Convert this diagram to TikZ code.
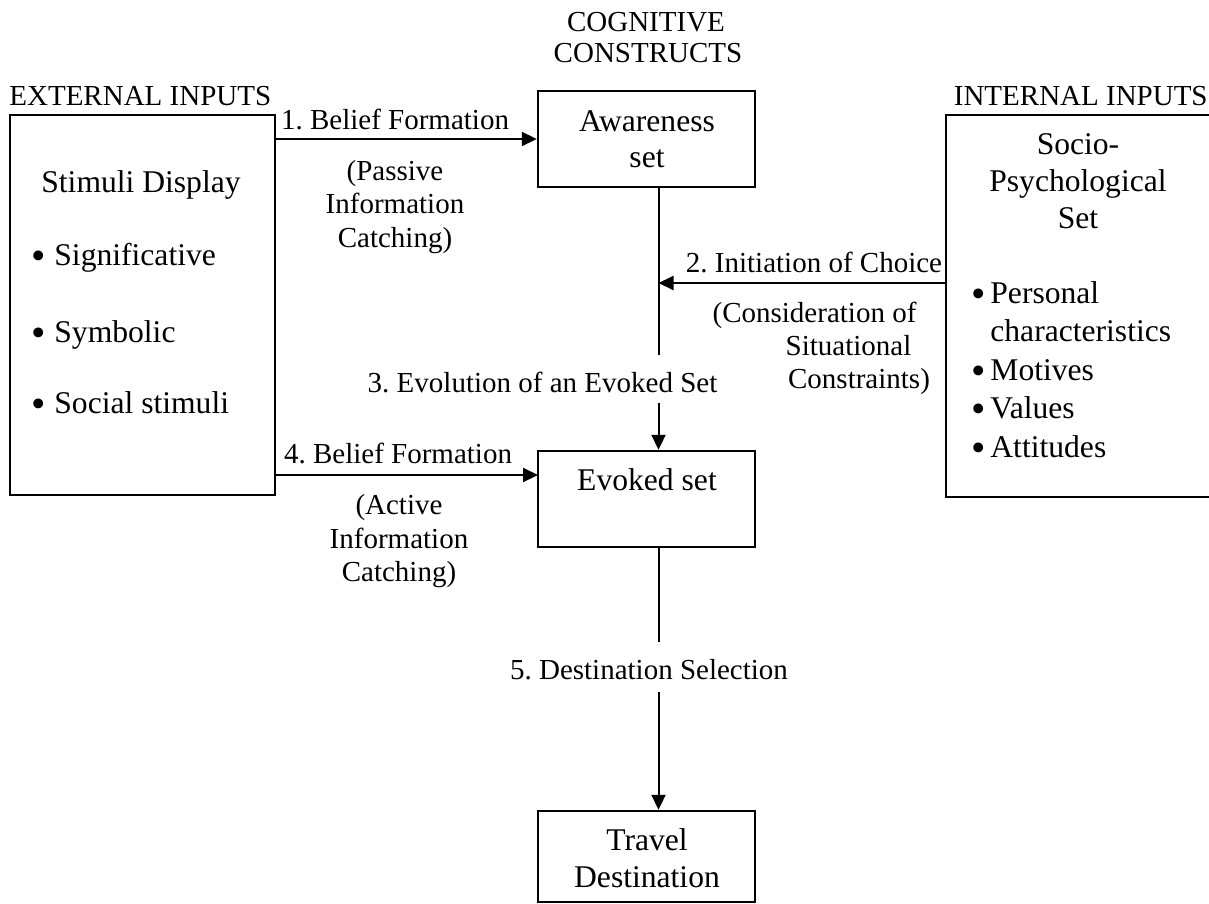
\documentclass[tikz,border=0pt]{standalone}
\usepackage{fontspec}
\setmainfont{Liberation Serif}
\usetikzlibrary{arrows.meta}
\frenchspacing
\newcommand{\bul}[1]{\makebox[#1][l]{\raisebox{-2.4pt}{\scalebox{1.3}{•}}}}
\begin{document}
\begin{tikzpicture}[x=0.5pt,y=-0.5pt,
  box/.style={draw,line width=1.2pt,rectangle,inner sep=0pt,minimum width=108.5pt,minimum height=48pt},
  lbl/.style={inner sep=0pt,anchor=base,font=\fontsize{14.5}{16.75}\selectfont},
  btxt/.style={inner sep=0pt,anchor=base,font=\fontsize{15.8}{19}\selectfont},
  link/.style={line width=1pt},
  arr/.style={line width=1pt,-{Triangle[length=7.5pt,width=7pt]}}]
\useasboundingbox (0,0) rectangle (1209,904);
\clip (0,0) rectangle (1209,904);

% headings
\node[lbl] (cog1) at (646,32) {COGNITIVE};
\node[lbl] (cog2) at (648,63) {CONSTRUCTS};
\node[lbl,anchor=base west] (exth) at (9,105) {EXTERNAL INPUTS};
\node[lbl,anchor=base east] (inth) at (1208,105) {INTERNAL INPUTS};

% boxes
\node[box,minimum width=132.5pt,minimum height=190pt] (ext) at (142.5,305) {};
\node[box] (aw) at (646.5,139) {};
\node[box] (ev) at (646.5,499) {};
\node[box,minimum height=45.5pt] (tr) at (646.5,856.5) {};
\node[box,minimum width=134.5pt,minimum height=191pt] (int) at (1080.5,306) {};

% external inputs box text
\node[btxt] (sd) at (141,192) {Stimuli Display};
\node[btxt,anchor=base west] (b1) at (31,265) {\bul{11.5pt}Significative};
\node[btxt,anchor=base west] (b2) at (31,342) {\bul{11.5pt}Symbolic};
\node[btxt,anchor=base west] (b3) at (31,413) {\bul{11.5pt}Social stimuli};

% cognitive constructs text
\node[btxt] (aw1) at (647,132) {Awareness};
\node[btxt] (aw2) at (647,167) {set};
\node[btxt] (ev1) at (647,490) {Evoked set};
\node[btxt] (tr1) at (647,850) {Travel};
\node[btxt] (tr2) at (647,887) {Destination};

% internal inputs box text
\node[btxt] (sp1) at (1078,155) {Socio-};
\node[btxt] (sp2) at (1078,191) {Psychological};
\node[btxt] (sp3) at (1078,228) {Set};
\node[btxt,anchor=base west] (p1) at (971,303) {\bul{9.5pt}Personal};
\node[btxt,anchor=base west] (p1b) at (990,341) {characteristics};
\node[btxt,anchor=base west] (p2) at (971,380) {\bul{9.5pt}Motives};
\node[btxt,anchor=base west] (p3) at (971,418) {\bul{9.5pt}Values};
\node[btxt,anchor=base west] (p4) at (971,457) {\bul{9.5pt}Attitudes};

% connector points
\coordinate (a4) at (538,475);
\coordinate (j2) at (658.5,283);
\coordinate (g3a) at (658.5,355);
\coordinate (g3b) at (658.5,403);
\coordinate (g5a) at (658.5,642);
\coordinate (g5b) at (658.5,692);

% 1. belief formation (passive)
\draw[arr] (ext.east |- aw.west) -- (aw.west);
\node[lbl] (l1) at (395,129) {1. Belief Formation};
\node[lbl] (l1a) at (395,180) {(Passive};
\node[lbl] (l1b) at (395,213) {Information};
\node[lbl] (l1c) at (395,247) {Catching)};

% 2. initiation of choice
\draw[arr] (int.west |- j2) -- (j2);
\node[lbl] (l2) at (814,272) {2. Initiation of Choice};
\node[lbl] (l2a) at (814.5,322) {(Consideration of};
\node[lbl] (l2b) at (848.5,355) {Situational};
\node[lbl] (l2c) at (859,388) {Constraints)};

% 3. evolution of an evoked set
\draw[link] (j2 |- aw.south) -- (g3a);
\draw[arr] (g3b) -- (j2 |- ev.north);
\node[lbl] (l3) at (542.5,392) {3. Evolution of an Evoked Set};

% 4. belief formation (active)
\draw[arr] (ext.east |- a4) -- (a4);
\node[lbl] (l4) at (398,463) {4. Belief Formation};
\node[lbl] (l4a) at (399,514) {(Active};
\node[lbl] (l4b) at (399,548) {Information};
\node[lbl] (l4c) at (399,581) {Catching)};

% 5. destination selection
\draw[link] (j2 |- ev.south) -- (g5a);
\draw[arr] (g5b) -- (j2 |- tr.north);
\node[lbl] (l5) at (649,679) {5. Destination Selection};
\end{tikzpicture}
\end{document}
